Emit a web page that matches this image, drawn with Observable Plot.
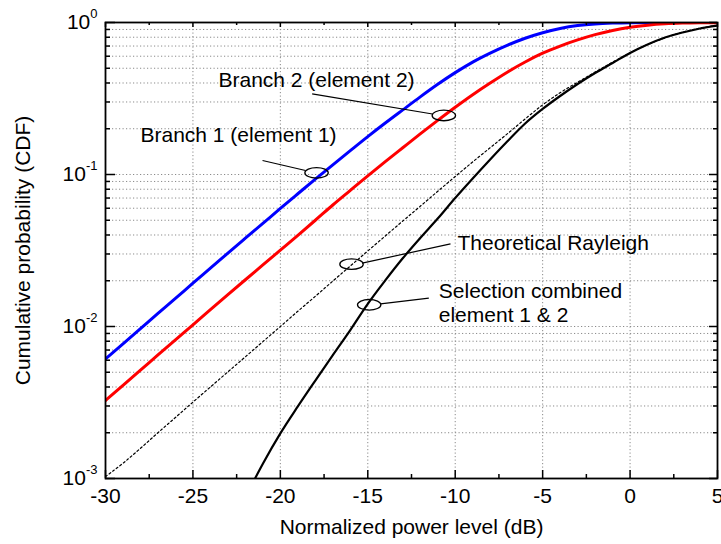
<!DOCTYPE html>
<html>
<head>
<meta charset="utf-8">
<script src="https://cdn.jsdelivr.net/npm/d3@7"></script>
<script src="https://cdn.jsdelivr.net/npm/@observablehq/plot@0.6"></script>
<style>
  html, body { margin: 0; padding: 0; background: #fff; }
  #chart svg { display: block; }
</style>
</head>
<body>
<div id="chart"></div>
<script>
// ---- data ----
const xdB = [-30,-29,-28,-27,-26,-25,-24,-23,-22,-21,-20,-19,-18,-17,-16,-15,-14,-13,-12,-11,-10,-9,-8,-7,-6,-5,-4,-3,-2,-1,0,1,2,3,4,5];
const branch1Cdf = [0.00612,0.00769,0.00968,0.0122,0.0153,0.0193,0.0242,0.0304,0.0381,0.0477,0.0598,0.0747,0.0932,0.1158,0.1435,0.1775,0.218,0.266,0.324,0.392,0.468,0.549,0.629,0.710,0.788,0.857,0.913,0.954,0.979,0.992,0.998,0.9995,0.9999,1,1,1];
const branch2Cdf = [0.00326,0.00410,0.00516,0.00650,0.00818,0.01025,0.0129,0.0162,0.0203,0.0254,0.0318,0.0398,0.0500,0.0630,0.0786,0.0980,0.1215,0.150,0.185,0.227,0.277,0.335,0.400,0.473,0.550,0.628,0.700,0.768,0.832,0.887,0.930,0.960,0.980,0.991,0.996,0.998];
const rayleighCdf = [0.00103,0.00126,0.00158,0.0020,0.00252,0.00318,0.0040,0.00503,0.00632,0.00795,0.0100,0.0126,0.0158,0.0199,0.0250,0.0314,0.0394,0.0494,0.0618,0.0775,0.097,0.121,0.150,0.186,0.232,0.287,0.345,0.405,0.472,0.548,0.632,0.716,0.792,0.863,0.918,0.957];
const selX = [-21.45,-21,-20,-19,-18,-17,-16,-15,-14,-13,-12,-11,-10,-9,-8,-7,-6,-5,-4,-3,-2,-1,0,1,2,3,4,5];
const selCdf = [0.0010,0.00125,0.00198,0.00298,0.00441,0.00649,0.00948,0.0141,0.0201,0.0281,0.0382,0.0513,0.0700,0.0941,0.1255,0.166,0.2165,0.270,0.3285,0.394,0.4654,0.5416,0.630,0.7166,0.797,0.8595,0.913,0.9556];

// axis ticks
const xTicks = [-30,-25,-20,-15,-10,-5,0,5];
const xMinorTicks = [-27.5,-22.5,-17.5,-12.5,-7.5,-2.5,2.5];
const yTicks = [0.001,0.01,0.1,1];
const yMinorTicks = [0.002,0.003,0.004,0.005,0.006,0.007,0.008,0.009,
                     0.02,0.03,0.04,0.05,0.06,0.07,0.08,0.09,
                     0.2,0.3,0.4,0.5,0.6,0.7,0.8,0.9];

// annotations
const annLabels = ["Branch 2 (element 2)", "Branch 1 (element 1)", "Theoretical Rayleigh", "Selection combined\nelement 1 & 2"];
const annTextX = [-23.54, -28.0, -9.87, -10.94];
const annTextY = [0.4217, 0.1834, 0.0357, 0.01452];
const ellipseX = [-10.65, -17.93, -15.93, -14.92];
const ellipseY = [0.2445, 0.1026, 0.0257, 0.0139];
const leaderX1 = [-18.18, -21.02, -10.27, -11.51];
const leaderY1 = [0.3396, 0.1236, 0.0350, 0.01535];
const leaderX2 = [-11.30, -18.56, -15.32, -14.27];
const leaderY2 = [0.250, 0.1063, 0.02609, 0.01410];

// ---- chart ----
const W = 721, H = 544, ML = 105, MR = 4, MT = 22, MB = 66;
const PW = W - ML - MR, PH = H - MT - MB;
const font = "Liberation Sans, Arial, Helvetica, sans-serif";

const ellipseSymbol = {
  draw(ctx, size) {
    const rx = Math.sqrt(size / Math.PI), ry = rx * 0.45, k = 0.5523;
    ctx.moveTo(rx, 0);
    ctx.bezierCurveTo(rx, ry * k, rx * k, ry, 0, ry);
    ctx.bezierCurveTo(-rx * k, ry, -rx, ry * k, -rx, 0);
    ctx.bezierCurveTo(-rx, -ry * k, -rx * k, -ry, 0, -ry);
    ctx.bezierCurveTo(rx * k, -ry, rx, -ry * k, rx, 0);
    ctx.closePath();
  }
};

const gridStyle = {stroke: "#8a8a8a", strokeWidth: 1, strokeDasharray: "1.2,2.3"};

const chart = Plot.plot({
  width: W, height: H,
  marginLeft: ML, marginRight: MR, marginTop: MT, marginBottom: MB,
  style: {fontFamily: font, fontSize: "21px", color: "black", background: "white"},
  x: {domain: [-30, 5], label: "Normalized power level (dB)"},
  y: {type: "log", domain: [0.001, 1], label: "Cumulative probability (CDF)"},
  marks: [
    // grid
    Plot.ruleX(xTicks.slice(1, -1), {x: d => d, ...gridStyle}),
    Plot.ruleY(yMinorTicks.concat(yTicks.slice(1, -1)), {y: d => d, ...gridStyle}),
    // curves
    Plot.line(xdB, {x: xdB, y: branch1Cdf, stroke: "#0000ff", strokeWidth: 3, curve: "monotone-x", clip: true}),
    Plot.line(xdB, {x: xdB, y: branch2Cdf, stroke: "#ff0000", strokeWidth: 3, curve: "monotone-x", clip: true}),
    Plot.line(xdB, {x: xdB, y: rayleighCdf, stroke: "black", strokeWidth: 1.2, strokeDasharray: "2,2.5", curve: "monotone-x", clip: true}),
    Plot.line(selX, {x: selX, y: selCdf, stroke: "black", strokeWidth: 2.2, curve: "monotone-x", clip: true}),
    // annotations
    Plot.link(leaderX1, {x1: leaderX1, y1: leaderY1, x2: leaderX2, y2: leaderY2, stroke: "black", strokeWidth: 1.2}),
    Plot.dot(ellipseX, {x: ellipseX, y: ellipseY, r: 11.7, symbol: ellipseSymbol, stroke: "black", fill: "none", strokeWidth: 1.3}),
    Plot.text(annLabels, {x: annTextX, y: annTextY, text: d => d, textAnchor: "start", fontSize: 21, lineHeight: 1.14, fill: "black"}),
    // inward ticks
    Plot.tickX(xTicks, {x: d => d, insetTop: PH - 8, stroke: "black", strokeWidth: 1.5}),
    Plot.tickX(xMinorTicks, {x: d => d, insetTop: PH - 4, stroke: "black", strokeWidth: 1.5}),
    Plot.tickX(xTicks, {x: d => d, insetBottom: PH - 5, stroke: "black", strokeWidth: 1.5}),
    Plot.tickX(xMinorTicks, {x: d => d, insetBottom: PH - 3, stroke: "black", strokeWidth: 1.5}),
    Plot.tickY(yTicks, {y: d => d, insetRight: PW - 10, stroke: "black", strokeWidth: 1.5}),
    Plot.tickY(yMinorTicks, {y: d => d, insetRight: PW - 5, stroke: "black", strokeWidth: 1.5}),
    Plot.tickY(yTicks, {y: d => d, insetLeft: PW - 8, stroke: "black", strokeWidth: 1.5}),
    Plot.tickY(yMinorTicks, {y: d => d, insetLeft: PW - 4, stroke: "black", strokeWidth: 1.5}),
    // axes
    Plot.axisX(xTicks, {tickSize: 0, tickPadding: 10, fontSize: 21, tickFormat: d => String(d),
      label: "Normalized power level (dB)", labelAnchor: "center", labelOffset: 55, labelArrow: "none"}),
    Plot.axisY(yTicks, {tickSize: 0, tickPadding: 8, fontSize: 21, tickFormat: d => `10^${Math.round(Math.log10(d))}`,
      label: "Cumulative probability (CDF)", labelAnchor: "center", labelOffset: 90, labelArrow: "none"}),
    Plot.frame({stroke: "black", strokeWidth: 1.8})
  ]
});

// superscript exponents on the y tick labels
d3.select(chart).selectAll("g[aria-label='y-axis tick label'] text").each(function () {
  const t = d3.select(this);
  const s = t.text();
  if (s.includes("^")) {
    const [base, exp] = s.split("^");
    t.text(base);
    t.append("tspan").attr("dy", "-11").attr("font-size", "13").text(exp);
  }
});

document.getElementById("chart").appendChild(chart);
</script>
</body>
</html>
